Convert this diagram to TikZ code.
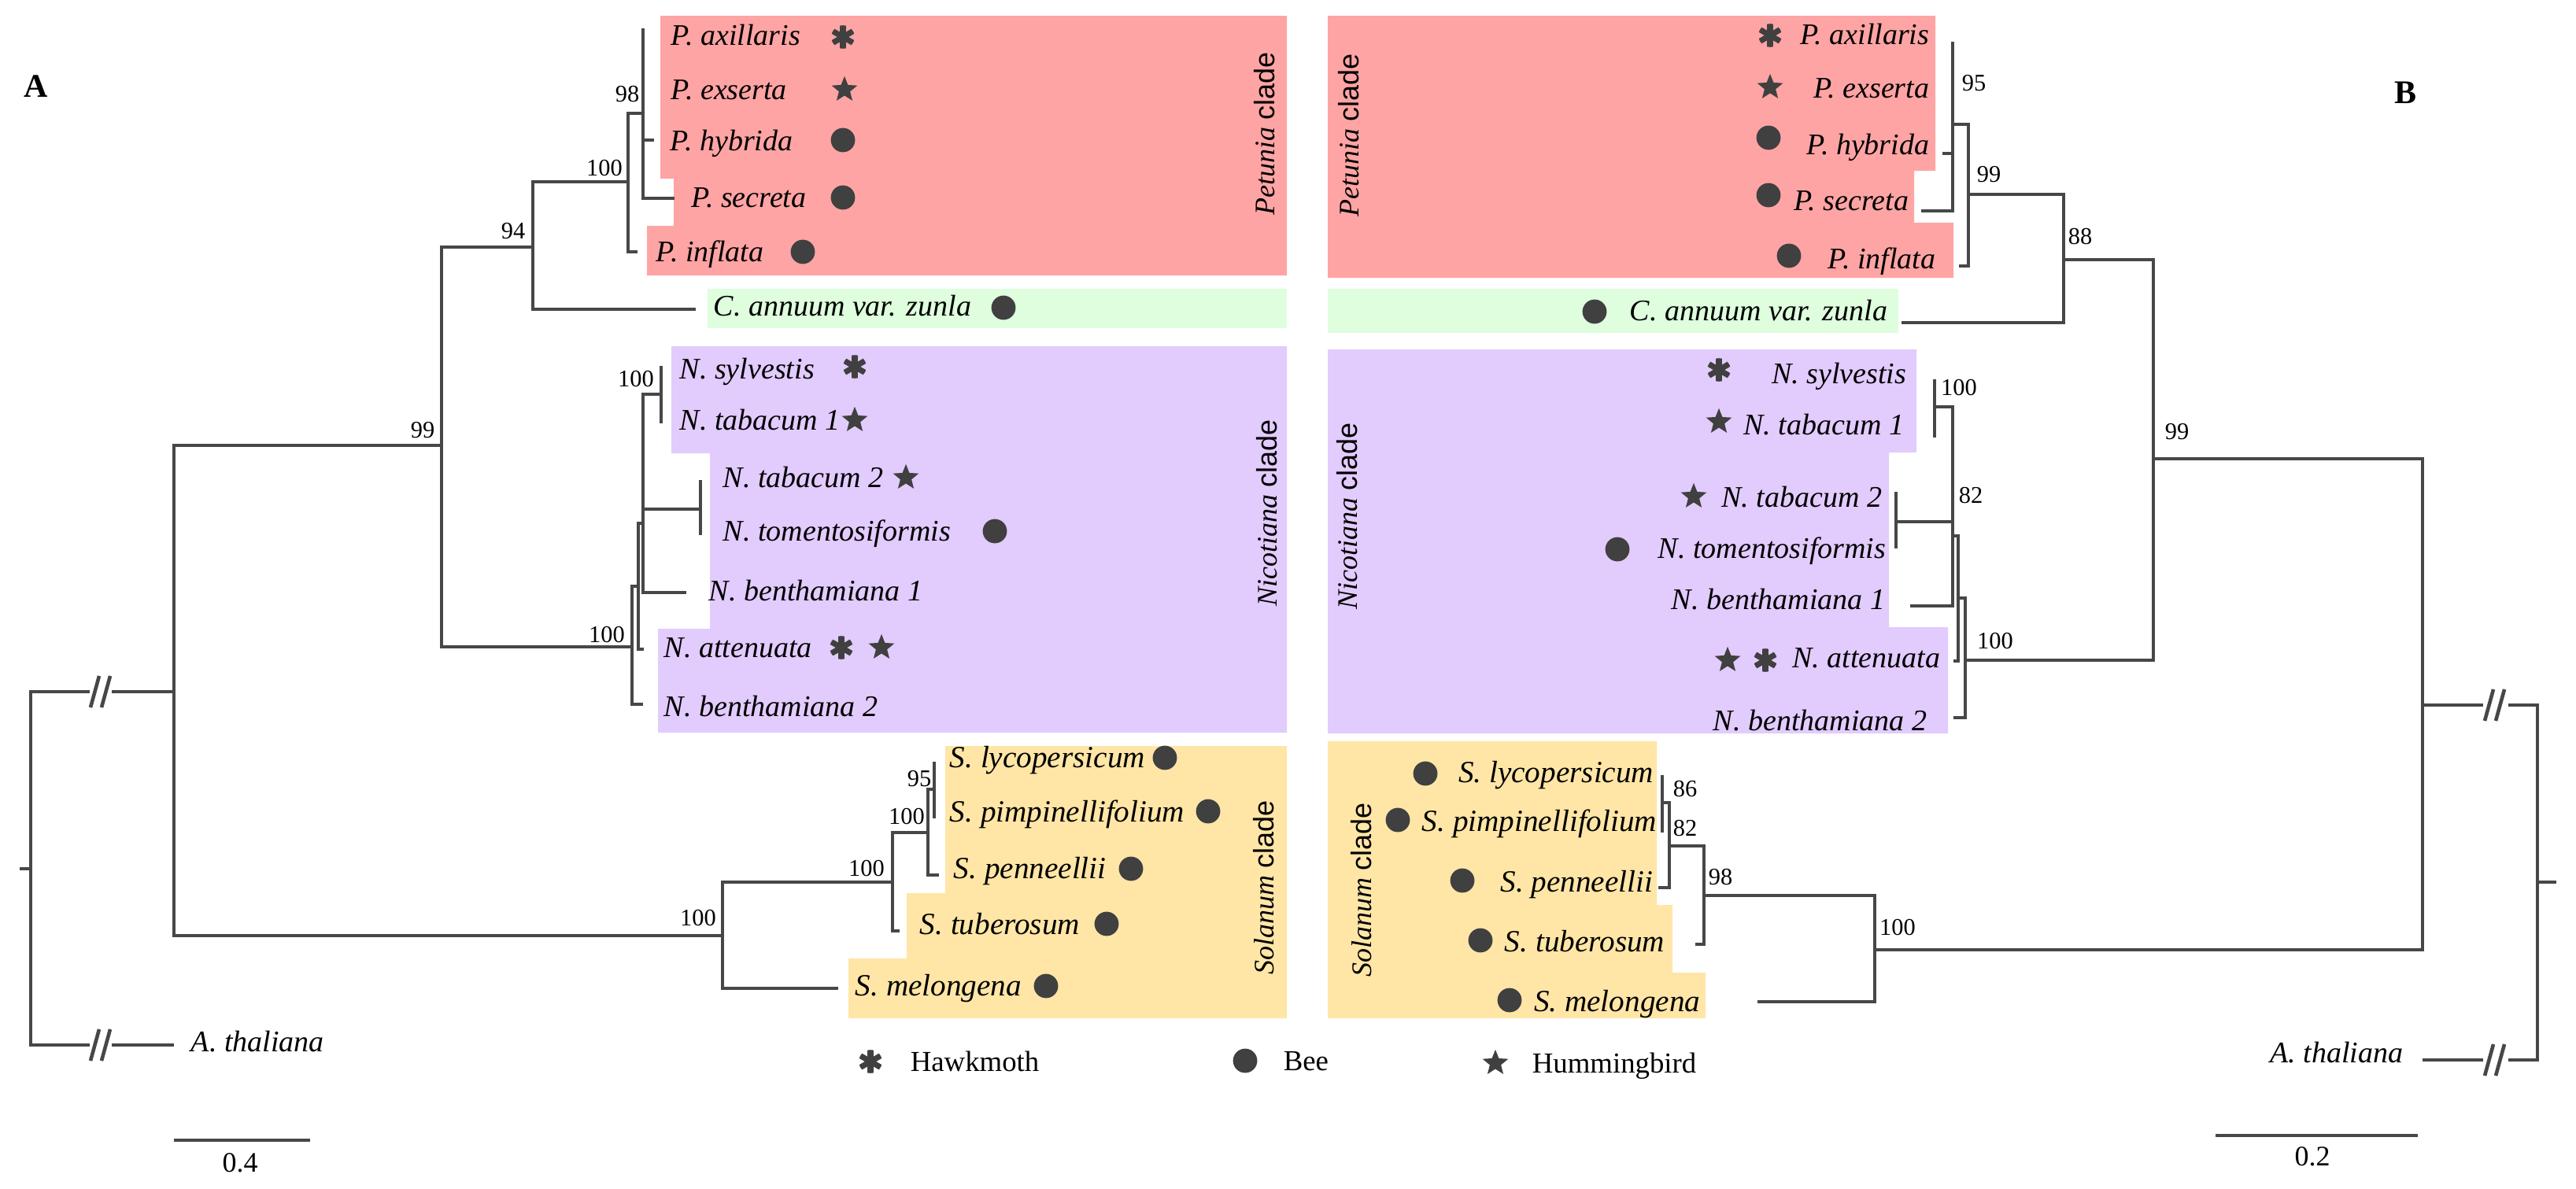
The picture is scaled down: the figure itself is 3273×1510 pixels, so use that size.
\documentclass[tikz,border=0pt]{standalone}
\usepackage{fontspec}
\setmainfont{Liberation Serif}[ItalicFont={Liberation Serif Italic},BoldFont={Liberation Serif Bold},BoldItalicFont={Liberation Serif Bold Italic}]
\setsansfont{Liberation Sans}
\newfontfamily\taxfont{Liberation Serif Italic}
\usetikzlibrary{shapes.geometric}
\definecolor{treegray}{HTML}{474747}
\definecolor{markc}{HTML}{404040}
\definecolor{pinkbg}{HTML}{FFA4A4}
\definecolor{greenbg}{HTML}{DEFEDD}
\definecolor{purplebg}{HTML}{E2CBFD}
\definecolor{yellowbg}{HTML}{FFE6A6}
\begin{document}
\begin{tikzpicture}[x=0.25pt,y=-0.25pt,
  br/.style={draw=treegray, line width=1.15pt},
  taxL/.style={anchor=base west, inner sep=0pt, font=\fontsize{9.5}{11}\taxfont},
  taxR/.style={anchor=base east, inner sep=0pt, font=\fontsize{9.5}{11}\taxfont},
  staxL/.style={taxL, font=\fontsize{9.8}{11}\taxfont},
  staxR/.style={taxR, font=\fontsize{9.8}{11}\taxfont},
  boot/.style={inner sep=0pt, font=\fontsize{7.6}{9}\selectfont\rmfamily},
  cladelab/.style={rotate=90, inner sep=0pt, font=\fontsize{9}{11}\selectfont},
  legtext/.style={anchor=base west, inner sep=0pt, font=\fontsize{9.2}{11}\selectfont\rmfamily},
  panel/.style={inner sep=0pt, font=\fontsize{10.5}{12}\selectfont\bfseries},
  beem/.style={circle, fill=markc, minimum size=7.7pt, inner sep=0pt},
  hbm/.style={star, star points=5, star point ratio=2.3, fill=markc, minimum size=8.6pt, inner sep=0pt},
  hawkm/.style={circle, minimum size=7.4pt, inner sep=0pt, path picture={
     \foreach \a in {90,30,-30}{\draw[markc, line width=1.8pt]
       ([shift={(\a:5pt)}]path picture bounding box.center) --
       ([shift={(\a+180:5pt)}]path picture bounding box.center);}}},
]
\useasboundingbox (0,0) rectangle (3273,1510);

% ---------- coloured clade backgrounds ----------
\fill[pinkbg] (839,20) -- (1635,20) -- (1635,350) -- (822,350) -- (822,287) -- (856,287) -- (856,227) -- (839,227) -- cycle;
\fill[greenbg] (899,367) rectangle (1635,417);
\fill[purplebg] (853,440) -- (1635,440) -- (1635,931) -- (836,931) -- (836,799) -- (902,799) -- (902,576) -- (853,576) -- cycle;
\fill[yellowbg] (1201,948) -- (1635,948) -- (1635,1294) -- (1078,1294) -- (1078,1218) -- (1152,1218) -- (1152,1135) -- (1201,1135) -- cycle;

\fill[pinkbg] (1687,20) -- (2459,20) -- (2459,217) -- (2432,217) -- (2432,283) -- (2482,283) -- (2482,353) -- (1687,353) -- cycle;
\fill[greenbg] (1687,367) rectangle (2412,423);
\fill[purplebg] (1687,444) -- (2435,444) -- (2435,575) -- (2400,575) -- (2400,797) -- (2475,797) -- (2475,932) -- (1687,932) -- cycle;
\fill[yellowbg] (1687,942) -- (2105,942) -- (2105,1150) -- (2125,1150) -- (2125,1236) -- (2167,1236) -- (2167,1294) -- (1687,1294) -- cycle;

% ---------- tree A coordinates ----------
\coordinate (rA) at (39,1104);
\coordinate (rAs) at (25,1104);
\coordinate (kA1) at (114,879);
\coordinate (kA2) at (142,879);
\coordinate (kA3) at (114,1328);
\coordinate (kA4) at (142,1328);
\coordinate (lAth) at (221,1328);
\coordinate (nA0) at (221,879);
\coordinate (nA99) at (561,566);
\coordinate (nA94) at (677,314);
\coordinate (nAP100) at (798,231);
\coordinate (nAP98) at (817,144);
\coordinate (lA1) at (817,36);
\coordinate (lA2) at (817,114);
\coordinate (lA3) at (831,178);
\coordinate (lA4) at (857,252);
\coordinate (lA5) at (810,320);
\coordinate (lA6) at (884,393);
\coordinate (nAN1) at (803,822);
\coordinate (nAN2) at (811,745);
\coordinate (nAN3) at (817,665);
\coordinate (nAN4) at (840,501);
\coordinate (lA7) at (840,465);
\coordinate (lA8) at (840,538);
\coordinate (nAN5) at (890,647);
\coordinate (lA9) at (890,610);
\coordinate (lA10) at (890,680);
\coordinate (lA11) at (872,753);
\coordinate (lA12) at (818,825);
\coordinate (lA13) at (817,895);
\coordinate (nAS0) at (918,1189);
\coordinate (nAS1) at (1134,1121);
\coordinate (nAS2) at (1179,1058);
\coordinate (nAS3) at (1187,1003);
\coordinate (lA14) at (1187,968);
\coordinate (lA15) at (1187,1040);
\coordinate (lA16) at (1193,1112);
\coordinate (lA17) at (1143,1183);
\coordinate (lA18) at (1065,1256);

% ---------- tree B coordinates ----------
\coordinate (rB) at (3224,1121);
\coordinate (rBs) at (3248,1121);
\coordinate (kB1) at (3187,896);
\coordinate (kB2) at (3155,896);
\coordinate (kB3) at (3187,1347);
\coordinate (kB4) at (3155,1347);
\coordinate (lBth) at (3078,1347);
\coordinate (nB0) at (3078,896);
\coordinate (nB99) at (2736,583);
\coordinate (nB88) at (2622,330);
\coordinate (nBP99) at (2501,247);
\coordinate (nBP95) at (2481,158);
\coordinate (lB1) at (2481,53);
\coordinate (lB2) at (2481,112);
\coordinate (lB3) at (2468,195);
\coordinate (lB4) at (2441,268);
\coordinate (lB5) at (2489,338);
\coordinate (lB6) at (2416,410);
\coordinate (nBN1) at (2497,839);
\coordinate (nBN2) at (2488,760);
\coordinate (nBN3) at (2481,681);
\coordinate (nBN4) at (2458,517);
\coordinate (lB7) at (2458,482);
\coordinate (lB8) at (2458,556);
\coordinate (nBN5) at (2409,663);
\coordinate (lB9) at (2409,625);
\coordinate (lB10) at (2409,697);
\coordinate (lB11) at (2427,770);
\coordinate (lB12) at (2482,840);
\coordinate (lB13) at (2482,912);
\coordinate (nBS0) at (2382,1207);
\coordinate (nBS1) at (2165,1138);
\coordinate (nBS2) at (2121,1075);
\coordinate (nBS3) at (2112,1020);
\coordinate (lB14) at (2112,985);
\coordinate (lB15) at (2112,1058);
\coordinate (lB16) at (2107,1128);
\coordinate (lB17) at (2154,1200);
\coordinate (lB18) at (2233,1273);

% ---------- branches ----------
\foreach \p/\c in {rA/kA1, rA/kA3, nA0/nA99, nA0/nAS0, nA99/nA94, nA99/nAN1,
  nA94/nAP100, nA94/lA6, nAP100/nAP98, nAP100/lA5, nAP98/lA1, nAP98/lA2, nAP98/lA3, nAP98/lA4,
  nAN1/nAN2, nAN1/lA13, nAN2/nAN3, nAN2/lA12, nAN3/nAN4, nAN3/nAN5, nAN3/lA11,
  nAN4/lA7, nAN4/lA8, nAN5/lA9, nAN5/lA10,
  nAS0/nAS1, nAS0/lA18, nAS1/nAS2, nAS1/lA17, nAS2/nAS3, nAS2/lA16, nAS3/lA14, nAS3/lA15,
  rB/kB1, rB/kB3, nB0/nB99, nB0/nBS0, nB99/nB88, nB99/nBN1,
  nB88/nBP99, nB88/lB6, nBP99/nBP95, nBP99/lB5, nBP95/lB1, nBP95/lB2, nBP95/lB3, nBP95/lB4,
  nBN1/nBN2, nBN1/lB13, nBN2/nBN3, nBN2/lB12, nBN3/nBN4, nBN3/nBN5, nBN3/lB11,
  nBN4/lB7, nBN4/lB8, nBN5/lB9, nBN5/lB10,
  nBS0/nBS1, nBS0/lB18, nBS1/nBS2, nBS1/lB17, nBS2/nBS3, nBS2/lB16, nBS3/lB14, nBS3/lB15}
  {\draw[br] (\p) |- (\c);}
\draw[br] (rAs) -- (rA);
\draw[br] (kA2) -- (nA0);
\draw[br] (kA4) -- (lAth);
\draw[br] (rBs) -- (rB);
\draw[br] (kB2) -- (nB0);
\draw[br] (kB4) -- (lBth);
% break marks
\foreach \k in {kA1,kA3}{
  \draw[br] ([shift={(1,20)}]\k) -- ++(11,-40);
  \draw[br] ([shift={(15,20)}]\k) -- ++(11,-40);}
\foreach \k in {kB2,kB4}{
  \draw[br] ([shift={(2,20)}]\k) -- ++(11,-40);
  \draw[br] ([shift={(16,20)}]\k) -- ++(11,-40);}

% scale bars
\coordinate (sA1) at (221,1449); \coordinate (sA2) at (394,1449);
\coordinate (sB1) at (2815,1443); \coordinate (sB2) at (3072,1443);
\draw[br] (sA1) -- (sA2);
\draw[br] (sB1) -- (sB2);
\node[inner sep=0pt, font=\fontsize{9}{11}\selectfont\rmfamily] (scA) at (305,1478) {0.4};
\node[inner sep=0pt, font=\fontsize{9}{11}\selectfont\rmfamily] (scB) at (2938,1470) {0.2};

% panel letters
\node[panel] (pA) at (46,110) {A};
\node[panel] (pB) at (3056,118) {B};

% ---------- bootstrap values ----------
\node[boot] (bA1) at (537,547) {99};
\node[boot] (bA2) at (652,294) {94};
\node[boot] (bA3) at (768,214) {100};
\node[boot] (bA4) at (797,120) {98};
\node[boot] (bA5) at (808,482) {100};
\node[boot] (bA6) at (771,807) {100};
\node[boot] (bA7) at (887,1167) {100};
\node[boot] (bA8) at (1101,1104) {100};
\node[boot] (bA9) at (1152,1038) {100};
\node[boot] (bA10) at (1168,990) {95};

\node[boot] (bB1) at (2508,106) {95};
\node[boot] (bB2) at (2527,222) {99};
\node[boot] (bB3) at (2643,301) {88};
\node[boot] (bB4) at (2766,549) {99};
\node[boot] (bB5) at (2489,493) {100};
\node[boot] (bB6) at (2504,630) {82};
\node[boot] (bB7) at (2535,815) {100};
\node[boot] (bB8) at (2141,1003) {86};
\node[boot] (bB9) at (2141,1053) {82};
\node[boot] (bB10) at (2186,1115) {98};
\node[boot] (bB11) at (2411,1179) {100};

% ---------- taxon names, tree A ----------
\node[taxL] (tA1) at (852,57) {P. axillaris};
\node[taxL] (tA2) at (852,126) {P. exserta};
\node[taxL] (tA3) at (851,191) {P. hybrida};
\node[taxL] (tA4) at (878,263) {P. secreta};
\node[taxL] (tA5) at (833,332) {P. inflata};
\node[taxL] (tA6) at (906,401) {C. annuum var. zunla};
\node[taxL] (tA7) at (863,481) {N. sylvestis};
\node[taxL] (tA8) at (863,546) {N. tabacum 1};
\node[taxL] (tA9) at (918,619) {N. tabacum 2};
\node[taxL] (tA10) at (918,687) {N. tomentosiformis};
\node[taxL] (tA11) at (900,763) {N. benthamiana 1};
\node[taxL] (tA12) at (843,835) {N. attenuata};
\node[taxL] (tA13) at (843,910) {N. benthamiana 2};
\node[staxL] (tA14) at (1206,975) {S. lycopersicum};
\node[staxL] (tA15) at (1206,1044) {S. pimpinellifolium};
\node[staxL] (tA16) at (1211,1116) {S. penneellii};
\node[staxL] (tA17) at (1168,1187) {S. tuberosum};
\node[staxL] (tA18) at (1086,1265) {S. melongena};
\node[taxL] (tA19) at (242,1336) {A. thaliana};

% ---------- taxon names, tree B ----------
\node[taxR] (tB1) at (2452,56) {P. axillaris};
\node[taxR] (tB2) at (2452,124) {P. exserta};
\node[taxR] (tB3) at (2452,196) {P. hybrida};
\node[taxR] (tB4) at (2426,267) {P. secreta};
\node[taxR] (tB5) at (2460,341) {P. inflata};
\node[taxR] (tB6) at (2399,407) {C. annuum var. zunla};
\node[taxR] (tB7) at (2423,487) {N. sylvestis};
\node[taxR] (tB8) at (2420,552) {N. tabacum 1};
\node[taxR] (tB9) at (2392,644) {N. tabacum 2};
\node[taxR] (tB10) at (2397,709) {N. tomentosiformis};
\node[taxR] (tB11) at (2396,774) {N. benthamiana 1};
\node[taxR] (tB12) at (2466,848) {N. attenuata};
\node[taxR] (tB13) at (2449,928) {N. benthamiana 2};
\node[staxR] (tB14) at (2102,994) {S. lycopersicum};
\node[staxR] (tB15) at (2106,1056) {S. pimpinellifolium};
\node[staxR] (tB16) at (2101,1133) {S. penneellii};
\node[staxR] (tB17) at (2116,1209) {S. tuberosum};
\node[staxR] (tB18) at (2161,1285) {S. melongena};
\node[taxR] (tB19) at (3054,1350) {A. thaliana};

% ---------- clade labels ----------
\node[cladelab] (cA1) at (1607,170) {{\taxfont Petunia} \textsf{clade}};
\node[cladelab] (cA2) at (1610,652) {{\taxfont Nicotiana} \textsf{clade}};
\node[cladelab] (cA3) at (1606,1128) {{\taxfont Solanum} \textsf{clade}};
\node[cladelab] (cB1) at (1714,172) {{\taxfont Petunia} \textsf{clade}};
\node[cladelab] (cB2) at (1712,656) {{\taxfont Nicotiana} \textsf{clade}};
\node[cladelab] (cB3) at (1730,1131) {{\taxfont Solanum} \textsf{clade}};

% ---------- pollinator markers, tree A ----------
\node[hawkm] (mA1) at (1071,47) {};
\node[hbm] (mA2) at (1073,114) {};
\node[beem] (mA3) at (1071,178) {};
\node[beem] (mA4) at (1071,251) {};
\node[beem] (mA5) at (1020,320) {};
\node[beem] (mA6) at (1275,391) {};
\node[hawkm] (mA7) at (1086,466) {};
\node[hbm] (mA8) at (1086,534) {};
\node[hbm] (mA9) at (1151,607) {};
\node[beem] (mA10) at (1264,675) {};
\node[hawkm] (mA11) at (1069,823) {};
\node[hbm] (mA12) at (1120,823) {};
\node[beem] (mA13) at (1480,963) {};
\node[beem] (mA14) at (1535,1031) {};
\node[beem] (mA15) at (1437,1104) {};
\node[beem] (mA16) at (1406,1174) {};
\node[beem] (mA17) at (1329,1253) {};

% ---------- pollinator markers, tree B ----------
\node[hawkm] (mB1) at (2249,45) {};
\node[hbm] (mB2) at (2249,111) {};
\node[beem] (mB3) at (2247,175) {};
\node[beem] (mB4) at (2247,248) {};
\node[beem] (mB5) at (2273,325) {};
\node[beem] (mB6) at (2026,396) {};
\node[hawkm] (mB7) at (2184,470) {};
\node[hbm] (mB8) at (2184,536) {};
\node[hbm] (mB9) at (2152,631) {};
\node[beem] (mB10) at (2055,698) {};
\node[hbm] (mB11) at (2195,839) {};
\node[hawkm] (mB12) at (2243,839) {};
\node[beem] (mB13) at (1811,983) {};
\node[beem] (mB14) at (1776,1042) {};
\node[beem] (mB15) at (1858,1119) {};
\node[beem] (mB16) at (1881,1195) {};
\node[beem] (mB17) at (1918,1271) {};

% ---------- legend ----------
\node[hawkm] (lgm1) at (1106,1349) {};
\node[legtext] (lgt1) at (1156,1361) {Hawkmoth};
\node[beem] (lgm2) at (1582,1348) {};
\node[legtext] (lgt2) at (1630,1360) {Bee};
\node[hbm] (lgm3) at (1900,1351) {};
\node[legtext] (lgt3) at (1946,1363) {Hummingbird};
\end{tikzpicture}
\end{document}
